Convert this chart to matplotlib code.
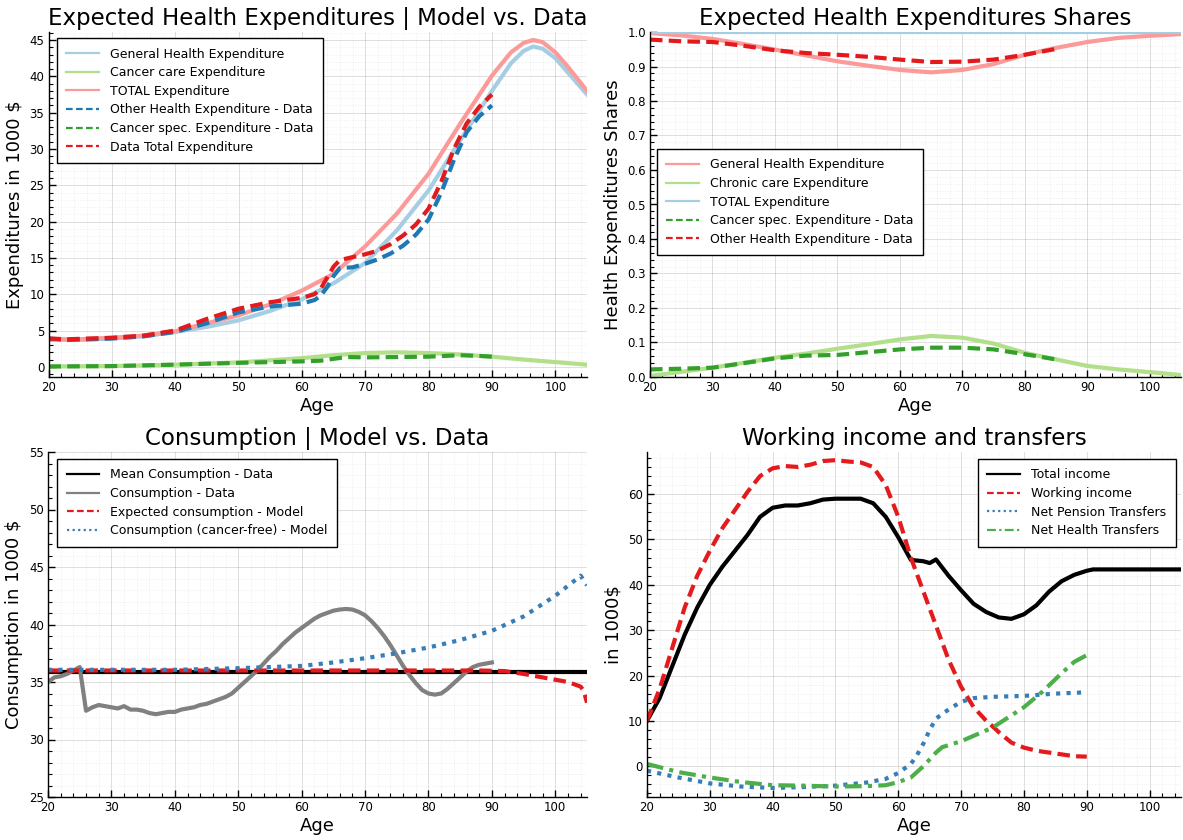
import matplotlib
matplotlib.use("Agg")
import matplotlib.pyplot as plt
from matplotlib.ticker import MultipleLocator, FormatStrFormatter

plt.rcParams['font.family'] = ['DejaVu Sans']

# ---------------- Panel 1: Expected Health Expenditures ----------------
age_model = [20, 25, 30, 35, 40, 45, 50, 55, 60, 65, 70, 75, 80, 85, 90, 93, 95, 96.5, 98, 100, 102, 105]
gen_model = [3.7, 3.7, 3.9, 4.2, 4.8, 5.5, 6.4, 7.7, 9.3, 11.5, 14.3, 18.8, 24.3, 31.2, 38.0, 41.8, 43.5, 44.1, 43.8, 42.5, 40.5, 37.5]
tot_model = [3.8, 3.8, 4.0, 4.3, 4.9, 6.0, 7.1, 8.6, 10.5, 12.8, 16.6, 21.1, 26.6, 33.5, 40.1, 43.3, 44.6, 45.0, 44.7, 43.3, 41.3, 38.0]
age_canc_model = [20, 30, 40, 50, 60, 65, 70, 75, 80, 85, 90, 95, 100, 105]
canc_model = [0.05, 0.1, 0.3, 0.6, 1.2, 1.6, 1.9, 2.0, 1.9, 1.7, 1.4, 1.0, 0.65, 0.3]

age_data = [20, 23, 30, 35, 40, 45, 50, 55, 60, 62, 63, 64, 65, 66, 68, 70, 72, 74, 76, 78, 80, 82, 84, 86, 88, 90]
other_data = [3.9, 3.7, 3.9, 4.2, 4.8, 6.0, 7.5, 8.3, 8.7, 9.2, 9.8, 11.0, 12.5, 13.6, 13.7, 14.2, 14.8, 15.6, 16.7, 18.2, 20.3, 24.0, 28.5, 32.3, 34.5, 36.0]
total_data = [3.9, 3.8, 4.0, 4.3, 5.0, 6.6, 8.0, 8.9, 9.5, 10.0, 10.8, 12.3, 13.8, 14.7, 15.1, 15.5, 16.0, 16.9, 18.1, 19.6, 21.8, 25.5, 30.0, 33.5, 35.8, 37.5]
age_canc_data = [20, 30, 40, 50, 55, 60, 63, 65, 67, 70, 75, 80, 85, 88, 90]
canc_data = [0.05, 0.1, 0.3, 0.55, 0.65, 0.75, 0.85, 1.1, 1.35, 1.3, 1.35, 1.4, 1.6, 1.5, 1.4]

# ---------------- Panel 2: Shares ----------------
age_sh = [20, 25, 30, 35, 40, 45, 50, 55, 60, 65, 70, 75, 80, 85, 90, 95, 100, 105]
gen_share = [0.997, 0.99, 0.98, 0.965, 0.949, 0.932, 0.915, 0.902, 0.89, 0.883, 0.89, 0.907, 0.934, 0.954, 0.971, 0.983, 0.989, 0.994]
chron_share = [0.003, 0.015, 0.027, 0.041, 0.056, 0.068, 0.082, 0.095, 0.109, 0.119, 0.114, 0.097, 0.07, 0.051, 0.032, 0.022, 0.014, 0.006]
total_share = [1.0] * len(age_sh)
age_sh_data = [20, 25, 30, 35, 40, 45, 50, 55, 60, 65, 70, 75, 80, 85]
canc_share_data = [0.022, 0.024, 0.027, 0.04, 0.054, 0.062, 0.064, 0.072, 0.08, 0.085, 0.085, 0.08, 0.066, 0.051]
other_share_data = [0.978, 0.973, 0.971, 0.96, 0.947, 0.939, 0.934, 0.928, 0.92, 0.913, 0.914, 0.92, 0.934, 0.951]

# ---------------- Panel 3: Consumption ----------------
age_c = list(range(20, 91))
cons_data = [35.0, 35.4, 35.5, 35.7, 36.0, 36.3, 32.5, 32.8, 33.0, 32.9, 32.8, 32.7, 32.9, 32.6, 32.6, 32.5,
             32.3, 32.2, 32.3, 32.4, 32.4, 32.6, 32.7, 32.8, 33.0, 33.1, 33.3, 33.5, 33.7, 34.0, 34.5, 35.0,
             35.5, 36.0, 36.6, 37.2, 37.7, 38.3, 38.8, 39.3, 39.7, 40.1, 40.5, 40.8, 41.0, 41.2, 41.3, 41.35,
             41.3, 41.1, 40.8, 40.3, 39.7, 39.0, 38.2, 37.3, 36.4, 35.6, 34.9, 34.3, 34.0, 33.9, 34.0, 34.4,
             34.9, 35.4, 35.9, 36.3, 36.5, 36.6, 36.7]
mean_cons = 35.9
age_cm = [20, 30, 40, 50, 60, 70, 80, 88, 92, 95, 98, 100, 102, 104, 104.5, 105]
exp_cons_model = [36.0, 36.0, 36.0, 36.0, 36.0, 36.0, 36.0, 36.0, 35.95, 35.7, 35.4, 35.2, 35.0, 34.6, 34.2, 33.2]
age_cf = [20, 30, 40, 50, 55, 60, 65, 70, 75, 80, 85, 90, 95, 100, 103, 104, 105]
cons_cf_model = [36.06, 36.06, 36.06, 36.2, 36.3, 36.4, 36.7, 37.07, 37.5, 38.0, 38.65, 39.45, 40.7, 42.5, 43.8, 44.25, 43.4]

# ---------------- Panel 4: Income ----------------
age_inc = [20, 22, 24, 26, 28, 30, 32, 34, 36, 38, 40, 42, 44, 46, 48, 50, 52, 54, 56, 58, 60, 62, 64, 65, 66,
           68, 70, 72, 74, 76, 78, 80, 82, 84, 86, 88, 90, 91, 105]
total_income = [10, 15, 22, 29, 35, 40, 44, 47.5, 51, 55, 57, 57.5, 57.5, 58, 58.8, 59, 59, 59, 58, 55, 50.5,
                45.5, 45.2, 44.8, 45.6, 42, 38.8, 35.8, 34, 32.8, 32.5, 33.5, 35.5, 38.5, 40.8, 42.2, 43.1, 43.4, 43.4]
age_w = [20, 22, 24, 26, 28, 30, 32, 34, 36, 38, 40, 42, 44, 46, 48, 50, 52, 54, 56, 58, 60, 62, 64, 66, 68,
         70, 72, 74, 75, 76, 78, 80, 82, 84, 86, 88, 90]
working_income = [10, 17, 26, 35, 42, 47.5, 52.5, 56.5, 60.5, 64, 65.7, 66.2, 66, 66.5, 67.3, 67.5, 67.2, 67, 66,
                  62, 55, 46, 38.5, 31, 23.5, 17.5, 13, 10, 8.8, 7.5, 5.2, 4.1, 3.4, 3.0, 2.6, 2.2, 2.1]
age_t = [20, 25, 30, 35, 40, 45, 50, 55, 58, 60, 62, 63, 64, 65, 66, 68, 70, 72, 75, 80, 85, 90]
pension_tr = [-1, -2.5, -3.8, -4.5, -4.8, -4.6, -4.3, -3.6, -2.8, -1.5, 0.5, 2.5, 5, 8, 10.5, 12.5, 14.2, 15, 15.3, 15.5, 16, 16.3]
age_h = [20, 25, 30, 35, 40, 45, 50, 55, 58, 60, 62, 64, 66, 67, 70, 75, 80, 83, 86, 88, 90]
health_tr = [0.5, -1.3, -2.5, -3.5, -4.2, -4.3, -4.5, -4.4, -4.2, -3.5, -2.5, 0, 3, 4.2, 5.5, 8.5, 13, 16.5, 20.5, 23, 24.5]

LW = 3.0
TITLE_FS = 16.5
LABEL_FS = 13
TICK_FS = 8.5
LEG_FS = 9


def style(ax, ylim, ymajor, yminor, yfmt=None):
    ax.set_xlim(20, 105)
    ax.set_ylim(*ylim)
    ax.xaxis.set_major_locator(MultipleLocator(10))
    ax.xaxis.set_minor_locator(MultipleLocator(2))
    ax.yaxis.set_major_locator(MultipleLocator(ymajor))
    ax.yaxis.set_minor_locator(MultipleLocator(yminor))
    if yfmt:
        ax.yaxis.set_major_formatter(FormatStrFormatter(yfmt))
    for s in ['top', 'right']:
        ax.spines[s].set_visible(False)
    for s in ['left', 'bottom']:
        ax.spines[s].set_linewidth(1.0)
    ax.tick_params(which='major', direction='in', length=5, width=1, labelsize=TICK_FS, pad=3)
    ax.tick_params(which='minor', direction='in', length=3, width=0.8)
    ax.grid(True, which='major', color='black', alpha=0.13, linewidth=0.7)
    ax.grid(True, which='minor', color='black', alpha=0.07, linewidth=0.5, linestyle=(0, (2, 2)))
    ax.set_axisbelow(True)
    ax.set_xlabel('Age', fontsize=LABEL_FS, labelpad=2)


def legend(ax, **kw):
    leg = ax.legend(fontsize=LEG_FS, fancybox=False, framealpha=1, edgecolor='black',
                    handlelength=2.6, labelspacing=0.45, borderaxespad=0, borderpad=0.75,
                    handletextpad=0.9, **kw)
    leg.get_frame().set_linewidth(1.0)
    for h in leg.get_lines():
        h.set_linewidth(1.6)
    return leg


fig = plt.figure(figsize=(11.83, 8.4), dpi=100)
W, H = 1183, 840


def axes_px(l, t, r, b):
    return fig.add_axes([l / W, 1 - b / H, (r - l) / W, (b - t) / H])


DASH = (0, (3, 1.5))
DOT = (0, (1, 1.5))
DASHDOT = (0, (4, 1.5, 1, 1.5))

# Panel 1
ax1 = axes_px(48.5, 32, 587, 377)
ax1.plot(age_model, gen_model, color='#a6cee3', lw=LW, label='General Health Expenditure')
ax1.plot(age_canc_model, canc_model, color='#b2df8a', lw=LW, label='Cancer care Expenditure')
ax1.plot(age_model, tot_model, color='#fb9a99', lw=LW, label='TOTAL Expenditure')
ax1.plot(age_data, other_data, color='#1f78b4', lw=LW, ls=DASH, label='Other Health Expenditure - Data')
ax1.plot(age_canc_data, canc_data, color='#33a02c', lw=LW, ls=DASH, label='Cancer spec. Expenditure - Data')
ax1.plot(age_data, total_data, color='#e31a1c', lw=LW, ls=DASH, label='Data Total Expenditure')
style(ax1, (-1.4, 46.1), 5, 1)
ax1.set_ylabel('Expenditures in 1000 $', fontsize=LABEL_FS, labelpad=4)
ax1.set_title('Expected Health Expenditures | Model vs. Data', fontsize=TITLE_FS, pad=5)
legend(ax1, loc='upper left', bbox_to_anchor=(0.016, 0.982))

# Panel 2
ax2 = axes_px(650, 32, 1181, 377)
ax2.plot(age_sh, gen_share, color='#fb9a99', lw=LW, label='General Health Expenditure')
ax2.plot(age_sh, chron_share, color='#b2df8a', lw=LW, label='Chronic care Expenditure')
ax2.plot(age_sh, total_share, color='#a6cee3', lw=LW, label='TOTAL Expenditure')
ax2.plot(age_sh_data, canc_share_data, color='#33a02c', lw=LW, ls=DASH, label='Cancer spec. Expenditure - Data')
ax2.plot(age_sh_data, other_share_data, color='#e31a1c', lw=LW, ls=DASH, label='Other Health Expenditure - Data')
style(ax2, (0, 1.0), 0.1, 0.02, '%.1f')
ax2.set_ylabel('Health Expenditures Shares', fontsize=LABEL_FS, labelpad=4)
ax2.set_title('Expected Health Expenditures Shares', fontsize=TITLE_FS, pad=5)
legend(ax2, loc='upper left', bbox_to_anchor=(0.013, 0.661))

# Panel 3
ax3 = axes_px(48, 452, 587, 797)
ax3.plot([20, 105], [mean_cons, mean_cons], color='black', lw=LW, label='Mean Consumption - Data')
ax3.plot(age_c, cons_data, color='#808080', lw=LW, label='Consumption - Data')
ax3.plot(age_cm, exp_cons_model, color='#e41a1c', lw=LW, ls=DASH, label='Expected consumption - Model')
ax3.plot(age_cf, cons_cf_model, color='#377eb8', lw=LW, ls=DOT, label='Consumption (cancer-free) - Model')
style(ax3, (25, 55), 5, 1)
ax3.set_ylabel('Consumption in 1000 $', fontsize=LABEL_FS, labelpad=4)
ax3.set_title('Consumption | Model vs. Data', fontsize=TITLE_FS, pad=5)
legend(ax3, loc='upper left', bbox_to_anchor=(0.017, 0.98))

# Panel 4
ax4 = axes_px(647, 452, 1181, 797)
ax4.plot(age_inc, total_income, color='black', lw=LW, label='Total income')
ax4.plot(age_w, working_income, color='#e41a1c', lw=LW, ls=DASH, label='Working income')
ax4.plot(age_t, pension_tr, color='#377eb8', lw=LW, ls=DOT, label='Net Pension Transfers')
ax4.plot(age_h, health_tr, color='#4daf4a', lw=LW, ls=DASHDOT, label='Net Health Transfers')
style(ax4, (-6.8, 69.3), 10, 2)
ax4.set_ylabel('in 1000$', fontsize=LABEL_FS, labelpad=4)
ax4.set_title('Working income and transfers', fontsize=TITLE_FS, pad=5)
legend(ax4, loc='upper right', bbox_to_anchor=(0.99, 0.98))

fig.savefig('out.png', dpi=100)
